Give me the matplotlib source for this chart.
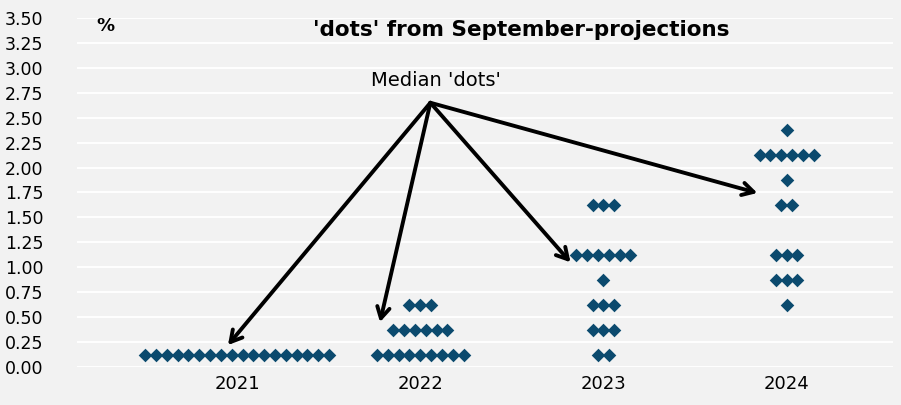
import matplotlib.pyplot as plt

# Dot plot data: (rate level, number of dots) per year
years = ['2021', '2022', '2023', '2024']
levels_2021 = [0.125]
counts_2021 = [18]
levels_2022 = [0.125, 0.375, 0.625]
counts_2022 = [9, 6, 3]
levels_2023 = [0.125, 0.375, 0.625, 0.875, 1.125, 1.625]
counts_2023 = [2, 3, 3, 1, 6, 3]
levels_2024 = [0.625, 0.875, 1.125, 1.625, 1.875, 2.125, 2.375]
counts_2024 = [1, 3, 3, 2, 1, 6, 1]

yticks = [i * 0.25 for i in range(15)]

bg = '#f2f2f2'
dot_color = '#0b4a6e'
step = 0.059

fig = plt.figure(figsize=(9.01, 4.05), dpi=100, facecolor=bg)
ax = fig.add_axes([0.0855, 0.0938, 0.9055, 0.8618], facecolor=bg)

all_levels = [levels_2021, levels_2022, levels_2023, levels_2024]
all_counts = [counts_2021, counts_2022, counts_2023, counts_2024]
for i, (levels, counts) in enumerate(zip(all_levels, all_counts)):
    for lev, n in zip(levels, counts):
        xs = [i + (k - (n - 1) / 2) * step for k in range(n)]
        ax.scatter(xs, [lev] * n, marker='D', s=48, color=dot_color,
                   linewidths=0, zorder=3)

ax.set_xlim(-0.874, 3.58)
ax.set_ylim(0, 3.5)
ax.set_yticks(yticks)
ax.set_yticklabels([f'{v:.2f}' for v in yticks], fontsize=12.5)
ax.set_xticks(range(len(years)))
ax.set_xticklabels(years, fontsize=13)
ax.tick_params(axis='x', length=0, pad=6)
ax.tick_params(axis='y', length=0, pad=52)
for lbl in ax.get_yticklabels():
    lbl.set_horizontalalignment('left')

ax.grid(axis='y', color='white', lw=1.4)
ax.set_axisbelow(True)
for s in ax.spines.values():
    s.set_visible(False)

# Title and unit
ax.text(1.55, 3.38, "'dots' from September-projections", ha='center',
        va='center', fontsize=15.5, fontweight='bold')
ax.text(-0.77, 3.42, '%', ha='left', va='center', fontsize=13,
        fontweight='bold')

# Arrows to median dots
src = (1.055, 2.65)
targets = [(-0.05, 0.22), (0.78, 0.45), (1.82, 1.05), (2.84, 1.745)]
for tx, ty in targets:
    ax.annotate('', xy=(tx, ty), xytext=src,
                arrowprops=dict(arrowstyle='->,head_length=0.8,head_width=0.45',
                                lw=2.8, color='black', shrinkA=0, shrinkB=0),
                zorder=4)
ax.text(1.085, 2.87, "Median 'dots'", ha='center', va='center', fontsize=14)

fig.savefig('out.png', dpi=100, facecolor=bg)
